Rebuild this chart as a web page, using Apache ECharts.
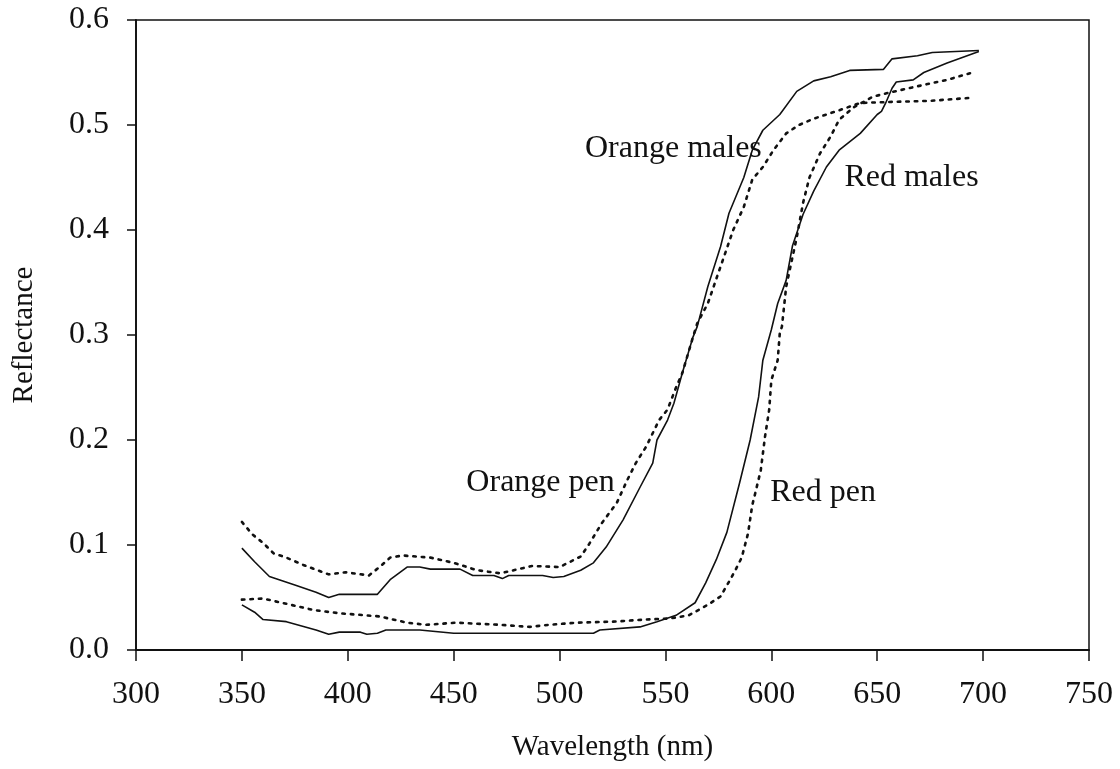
<!DOCTYPE html>
<html>
<head>
<meta charset="utf-8">
<script src="https://cdn.jsdelivr.net/npm/echarts@6/dist/echarts.min.js"></script>
<style>
html,body{margin:0;padding:0;background:#fff;}
#chart{width:1120px;height:769px;}
</style>
</head>
<body>
<div id="chart"></div>
<script>
// x tick values and y tick values
const xTicks = [300, 350, 400, 450, 500, 550, 600, 650, 700, 750];
const yTicks = [0.0, 0.1, 0.2, 0.3, 0.4, 0.5, 0.6];

// [wavelength nm, reflectance]
const orangeMales = [
  [350,0.097],[356,0.084],[363,0.070],[375,0.062],[385,0.055],[391,0.050],[396,0.053],[414,0.053],
  [420,0.067],[428,0.079],[434,0.079],[439,0.077],[453,0.077],[459,0.071],[469,0.071],[473,0.068],
  [476,0.071],[492,0.071],[497,0.069],[502,0.070],[510,0.076],[516,0.083],[522,0.098],[530,0.124],
  [538,0.155],[544,0.178],[546,0.200],[551,0.219],[554,0.235],[558,0.264],[563,0.298],[565,0.308],
  [570,0.346],[576,0.384],[580,0.416],[587,0.450],[591,0.476],[596,0.495],[604,0.510],[612,0.532],
  [620,0.542],[628,0.546],[637,0.552],[653,0.553],[657,0.563],[669,0.566],[676,0.569],[698,0.571]
];
const orangePen = [
  [350,0.122],[355,0.110],[360,0.102],[365,0.092],[371,0.088],[379,0.081],[391,0.072],[399,0.074],
  [410,0.071],[415,0.079],[420,0.088],[426,0.090],[439,0.088],[450,0.083],[461,0.076],[472,0.073],
  [487,0.080],[500,0.079],[510,0.089],[514,0.101],[520,0.121],[527,0.140],[532,0.162],[536,0.178],
  [541,0.194],[547,0.219],[551,0.229],[555,0.250],[558,0.264],[563,0.298],[565,0.311],[570,0.330],
  [576,0.365],[582,0.400],[587,0.422],[591,0.448],[596,0.460],[601,0.476],[607,0.492],[613,0.500],
  [620,0.506],[632,0.514],[642,0.521],[657,0.522],[675,0.523],[695,0.526]
];
const redMales = [
  [350,0.043],[356,0.036],[360,0.029],[371,0.027],[385,0.019],[391,0.015],[396,0.017],[406,0.017],
  [409,0.015],[414,0.016],[418,0.019],[434,0.019],[450,0.016],[516,0.016],[519,0.019],[538,0.022],
  [546,0.027],[555,0.033],[564,0.045],[569,0.064],[574,0.086],[579,0.112],[585,0.159],[590,0.200],
  [594,0.241],[596,0.276],[600,0.305],[603,0.330],[607,0.352],[610,0.385],[615,0.415],[620,0.437],
  [626,0.460],[632,0.476],[642,0.492],[650,0.510],[652,0.513],[654,0.521],[657,0.535],[659,0.541],
  [667,0.543],[672,0.550],[683,0.559],[698,0.570]
];
const redPen = [
  [350,0.048],[360,0.049],[371,0.044],[384,0.038],[396,0.035],[415,0.032],[428,0.026],[437,0.024],
  [451,0.026],[472,0.024],[486,0.022],[495,0.024],[508,0.026],[525,0.027],[541,0.029],[552,0.030],
  [561,0.033],[570,0.043],[576,0.051],[580,0.065],[583,0.076],[586,0.088],[589,0.111],[591,0.138],
  [592,0.146],[595,0.171],[597,0.203],[599,0.229],[600,0.257],[603,0.276],[604,0.302],[605,0.308],
  [607,0.346],[612,0.393],[615,0.426],[618,0.450],[623,0.473],[628,0.489],[632,0.505],[639,0.517],
  [648,0.527],[654,0.530],[667,0.536],[683,0.543],[695,0.550]
];
// curve labels: [text, wavelength, reflectance]
const curveLabels = [
  ['Orange males', 512, 0.478],
  ['Red males', 634.5, 0.450],
  ['Orange pen', 456, 0.159],
  ['Red pen', 599.5, 0.150]
];

const FONT = '"Liberation Serif", "DejaVu Serif", serif';
const solid = {color:'#111', width:1.6, type:'solid'};
const dotted = {color:'#111', width:2.6, type:[2.5, 6], cap:'round'};

const chart = echarts.init(document.getElementById('chart'), null, {renderer:'canvas'});
function lineSeries(name, data, style){
  return {name, type:'line', data, showSymbol:false, symbol:'none', lineStyle:style,
          itemStyle:{color:'#111'}, smooth:false, silent:true, animation:false, z:3};
}
chart.setOption({
  backgroundColor:'#fff',
  animation:false,
  grid:{left:136, right:31, top:20, bottom:119, containLabel:false, outerBoundsMode:'none',
        show:true, borderColor:'#111', borderWidth:1.5, backgroundColor:'transparent'},
  xAxis:{
    type:'value', min:xTicks[0], max:xTicks[xTicks.length-1], interval:50,
    name:'Wavelength (nm)', nameLocation:'middle', nameGap:83,
    nameTextStyle:{fontFamily:FONT, fontSize:29, color:'#111'},
    axisLine:{show:true, onZero:false, lineStyle:{color:'#111', width:1.8}},
    axisTick:{show:true, inside:false, length:11, lineStyle:{color:'#111', width:1.5}},
    axisLabel:{fontFamily:FONT, fontSize:32, color:'#111', margin:29, showMaxLabel:true, showMinLabel:true},
    splitLine:{show:false}
  },
  yAxis:{
    type:'value', min:yTicks[0], max:yTicks[yTicks.length-1], interval:0.1,
    name:'Reflectance', nameLocation:'middle', nameGap:97, nameRotate:90,
    nameTextStyle:{fontFamily:FONT, fontSize:29, color:'#111'},
    axisLine:{show:true, lineStyle:{color:'#111', width:1.8}},
    axisTick:{show:true, inside:false, length:9, lineStyle:{color:'#111', width:1.5}},
    axisLabel:{fontFamily:FONT, fontSize:32, color:'#111', margin:27, formatter:v=>v.toFixed(1)},
    splitLine:{show:false}
  },
  series:[
    lineSeries('Orange males', orangeMales, solid),
    lineSeries('Orange pen', orangePen, dotted),
    lineSeries('Red males', redMales, solid),
    lineSeries('Red pen', redPen, dotted),
    {
      type:'scatter', symbolSize:0, silent:true, animation:false, z:5,
      itemStyle:{opacity:1, color:'#111'},
      data: curveLabels.map(d=>({value:[d[1], d[2]], name:d[0]})),
      label:{show:true, position:'right', distance:0, formatter:p=>p.name, opacity:1,
             fontFamily:FONT, fontSize:32, color:'#111'}
    }
  ]
});
</script>
</body>
</html>
